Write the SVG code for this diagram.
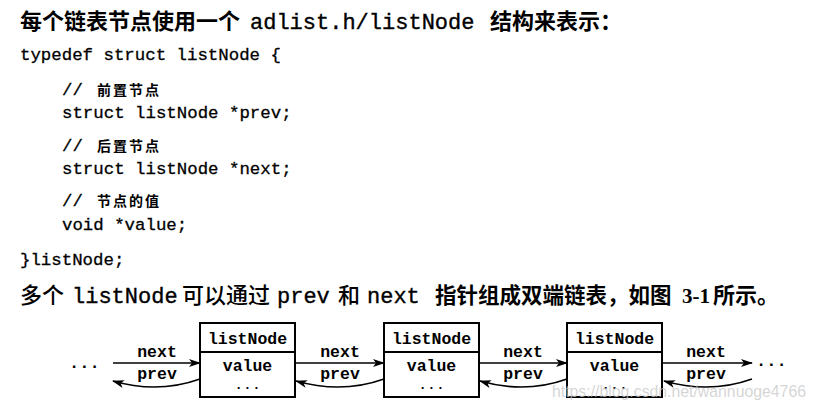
<svg xmlns="http://www.w3.org/2000/svg" width="817" height="409" viewBox="0 0 817 409">
<defs>
<style>
.cjkb{font-family:"Noto Sans CJK SC","Noto Sans",sans-serif;font-weight:bold;fill:#000}
.cjkr{font-family:"Noto Sans CJK SC","Noto Sans",sans-serif;font-weight:500;fill:#000}
.num{font-family:"Liberation Serif","Times New Roman",serif;font-weight:bold;fill:#000}
.mono{font-family:"Liberation Mono","Courier New",monospace;fill:#000;stroke:#000;stroke-width:0.35}
.code{font-family:"Liberation Mono","Courier New",monospace;font-size:17.4px;fill:#000;stroke:#000;stroke-width:0.3}
.cmt{font-family:"Noto Sans CJK SC",sans-serif;font-size:14px;font-weight:bold;letter-spacing:2px;fill:#000}
.box{fill:#fff;stroke:#000;stroke-width:2}
.lbl{font-family:"Liberation Mono","Courier New",monospace;font-size:16.5px;font-weight:bold;fill:#000;text-anchor:middle}
.dt{font-family:"Liberation Mono","Courier New",monospace;font-size:13px;font-weight:bold;fill:#000;text-anchor:middle;letter-spacing:1px}
.conn{fill:none;stroke:#000;stroke-width:1.6}
.dots{font-family:"Liberation Mono","Courier New",monospace;font-size:17px;font-weight:bold;fill:#000}
.wm{font-family:"Liberation Sans",Arial,sans-serif;font-size:16px;fill:#c8c8c8;fill-opacity:0.75}
</style>
<marker id="ah" viewBox="0 0 12 8" refX="11" refY="4" markerWidth="12" markerHeight="8" markerUnits="userSpaceOnUse" orient="auto">
<path d="M0,0 L12,4 L0,8 L3,4 Z" fill="#000"/>
</marker>
</defs>
<rect width="817" height="409" fill="#fff"/>

<g id="title">
<text y="29" font-size="22"><tspan class="cjkb" x="20">每个链表节点使用一个</tspan><tspan class="mono" x="250">adlist.h/listNode</tspan><tspan class="cjkb" x="490">结构来表示：</tspan></text>
</g>

<g id="code">
<text class="code" x="20" y="60">typedef struct listNode {</text>
<text x="62" y="95"><tspan class="code">//</tspan><tspan class="cmt" x="97">前置节点</tspan></text>
<text class="code" x="62" y="118">struct listNode *prev;</text>
<text x="62" y="151"><tspan class="code">//</tspan><tspan class="cmt" x="97">后置节点</tspan></text>
<text class="code" x="62" y="174">struct listNode *next;</text>
<text x="62" y="206"><tspan class="code">//</tspan><tspan class="cmt" x="97">节点的值</tspan></text>
<text class="code" x="62" y="230">void *value;</text>
<text class="code" x="20" y="265">}listNode;</text>
</g>

<g id="caption">
<text y="303" font-size="22"><tspan class="cjkr" x="20">多个</tspan><tspan class="mono" x="72">listNode</tspan><tspan class="cjkr" x="182">可以通过</tspan><tspan class="mono" x="277">prev</tspan><tspan class="cjkr" x="338">和</tspan><tspan class="mono" x="367">next</tspan><tspan class="cjkb" x="435" font-size="21.5">指针组成双端链表，如图</tspan><tspan class="num" x="682" font-size="21">3-1</tspan><tspan class="cjkb" x="713">所示。</tspan></text>
</g>

<g id="connectors">
<line class="conn" x1="113" y1="363" x2="200" y2="363" marker-end="url(#ah)"/>
<line class="conn" x1="295" y1="363" x2="384" y2="363" marker-end="url(#ah)"/>
<line class="conn" x1="479" y1="363" x2="567" y2="363" marker-end="url(#ah)"/>
<line class="conn" x1="662" y1="363" x2="752" y2="363" marker-end="url(#ah)"/>
<path class="conn" d="M200,379 Q158,394 113,381" marker-end="url(#ah)"/>
<path class="conn" d="M384,379 Q342,394 296,381" marker-end="url(#ah)"/>
<path class="conn" d="M567,379 Q525,394 480,381" marker-end="url(#ah)"/>
<path class="conn" d="M752,379 Q710,394 664,381" marker-end="url(#ah)"/>
<text class="lbl" x="157" y="357">next</text>
<text class="lbl" x="157" y="379">prev</text>
<text class="lbl" x="340" y="357">next</text>
<text class="lbl" x="340" y="379">prev</text>
<text class="lbl" x="523" y="357">next</text>
<text class="lbl" x="523" y="379">prev</text>
<text class="lbl" x="706" y="357">next</text>
<text class="lbl" x="706" y="379">prev</text>
</g>

<g id="ellipsis-left"><text class="dots" x="69" y="368">...</text></g>
<g id="ellipsis-right"><text class="dots" x="756" y="366">...</text></g>

<g id="node1">
<rect class="box" x="200" y="323" width="95" height="74"/>
<line class="box" x1="200" y1="352" x2="295" y2="352"/>
<text class="lbl" x="247.5" y="344">listNode</text>
<text class="lbl" x="247.5" y="371">value</text>
<text class="dt" x="248" y="389">...</text>
</g>
<g id="node2">
<rect class="box" x="384" y="323" width="95" height="74"/>
<line class="box" x1="384" y1="352" x2="479" y2="352"/>
<text class="lbl" x="431.5" y="344">listNode</text>
<text class="lbl" x="431.5" y="371">value</text>
<text class="dt" x="432" y="389">...</text>
</g>
<g id="node3">
<rect class="box" x="567" y="323" width="95" height="74"/>
<line class="box" x1="567" y1="352" x2="662" y2="352"/>
<text class="lbl" x="614.5" y="344">listNode</text>
<text class="lbl" x="614.5" y="371">value</text>
<text class="dt" x="615" y="389">...</text>
</g>

<text class="wm" x="552" y="397" textLength="254" lengthAdjust="spacingAndGlyphs">https://blog.csdn.net/wannuoge4766</text>
</svg>
